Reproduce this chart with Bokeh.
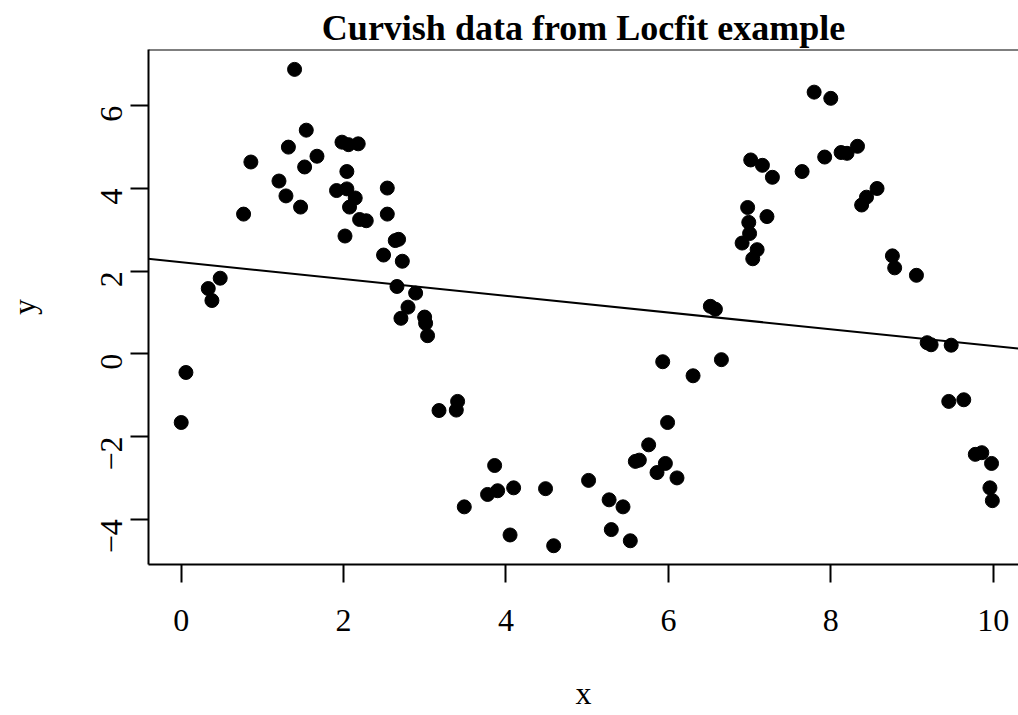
import math
from bokeh.plotting import figure
from bokeh.models import Range1d, Span, Slope, FixedTicker
from bokeh.embed import file_html
from bokeh.resources import INLINE

# ---- data ----
x_vals = [0.00, 0.058, 0.333, 0.378, 0.480, 0.768, 0.858, 1.204, 1.290, 1.320,
          1.396, 1.470, 1.520, 1.540, 1.672, 1.913, 1.980, 2.017, 2.040, 2.040,
          2.060, 2.073, 2.143, 2.180, 2.197, 2.279, 2.492, 2.538, 2.538, 2.636,
          2.657, 2.677, 2.706, 2.723, 2.793, 2.887, 2.998, 3.010, 3.034, 3.175,
          3.388, 3.404, 3.486, 3.773, 3.860, 3.897, 4.050, 4.094, 4.487, 4.587,
          5.017, 5.270, 5.297, 5.441, 5.531, 5.593, 5.642, 5.757, 5.860, 5.930,
          5.963, 5.990, 6.106, 6.304, 6.517, 6.579, 6.653, 6.908, 6.976, 6.990,
          7.000, 7.014, 7.039, 7.093, 7.158, 7.214, 7.281, 7.647, 7.795, 7.925,
          8.000, 8.127, 8.200, 8.329, 8.380, 8.440, 8.570, 8.759, 8.787, 9.055,
          9.187, 9.236, 9.453, 9.483, 9.638, 9.780, 9.860, 9.960, 9.980, 9.990]
y_vals = [-1.66, -0.45, 1.58, 1.29, 1.83, 3.38, 4.64, 4.18, 3.82, 5.00,
          6.88, 3.55, 4.52, 5.41, 4.78, 3.95, 5.12, 2.85, 4.41, 3.99,
          5.06, 3.55, 3.77, 5.08, 3.25, 3.22, 2.39, 4.01, 3.38, 2.74,
          1.63, 2.77, 0.86, 2.24, 1.13, 1.47, 0.89, 0.74, 0.44, -1.37,
          -1.36, -1.15, -3.70, -3.40, -2.70, -3.31, -4.38, -3.24, -3.26, -4.64,
          -3.06, -3.53, -4.25, -3.70, -4.52, -2.60, -2.57, -2.20, -2.87, -0.19,
          -2.65, -1.66, -3.00, -0.53, 1.15, 1.08, -0.14, 2.68, 3.54, 3.18,
          2.91, 4.69, 2.30, 2.52, 4.56, 3.32, 4.27, 4.41, 6.33, 4.76,
          6.18, 4.87, 4.85, 5.02, 3.60, 3.79, 4.00, 2.37, 2.08, 1.90,
          0.27, 0.22, -1.15, 0.21, -1.11, -2.43, -2.39, -3.24, -2.65, -3.55]
line_intercept = 2.215
line_slope = -0.2025
x_ticks = [0, 2, 4, 6, 8, 10]
y_ticks = [-4, -2, 0, 2, 4, 6]
y_tick_labels = {-4: "\u22124", -2: "\u22122", 0: "0", 2: "2", 4: "4", 6: "6"}
title_text = "Curvish data from Locfit example"
x_title = "x"
y_title = "y"

FONT = "Liberation Serif"
x_start, x_end = -0.403, 10.312
y_start, y_end = -5.094, 7.361

p = figure(width=1018, height=715, output_backend="svg", toolbar_location=None,
           x_range=Range1d(x_start, x_end), y_range=Range1d(y_start, y_end),
           title=title_text,
           min_border_left=148, min_border_right=0, min_border_top=49,
           min_border_bottom=151)
p.outline_line_color = None
p.grid.visible = False
p.background_fill_color = "white"
p.border_fill_color = "white"

p.title.text_font = FONT
p.title.text_font_size = "36px"
p.title.text_font_style = "bold"
p.title.align = "center"
p.title.vertical_align = "top"
p.title.offset = 3
p.title.text_color = "black"
p.title.standoff = 0

for ax in (p.xaxis[0], p.yaxis[0]):
    ax.axis_line_width = 2
    ax.axis_line_color = "black"
    ax.major_tick_line_width = 2
    ax.major_tick_line_color = "black"
    ax.major_tick_out = 18
    ax.major_tick_in = 0
    ax.minor_tick_line_color = None
    ax.major_label_text_font = FONT
    ax.major_label_text_font_size = "32px"
    ax.major_label_text_color = "black"
    ax.axis_label_text_font = FONT
    ax.axis_label_text_font_size = "32px"
    ax.axis_label_text_font_style = "normal"
    ax.axis_label_text_color = "black"

p.xaxis[0].ticker = FixedTicker(ticks=x_ticks)
p.yaxis[0].ticker = FixedTicker(ticks=y_ticks)
p.yaxis[0].major_label_overrides = y_tick_labels
p.yaxis[0].major_label_orientation = math.pi / 2
p.xaxis[0].axis_label = x_title
p.yaxis[0].axis_label = y_title
p.xaxis[0].major_label_standoff = 27
p.xaxis[0].axis_label_standoff = 41
p.yaxis[0].major_label_standoff = 19
p.yaxis[0].axis_label_standoff = 46

# top border of the box
p.add_layout(Span(location=y_end, dimension="width", line_color="black", line_width=2))

# regression line
p.add_layout(Slope(gradient=line_slope, y_intercept=line_intercept,
                   line_color="black", line_width=2))

p.scatter(x_vals, y_vals, size=14, marker="circle", fill_color="black",
          line_color="black", line_width=1)

open("out.html", "w").write(file_html(p, INLINE))
